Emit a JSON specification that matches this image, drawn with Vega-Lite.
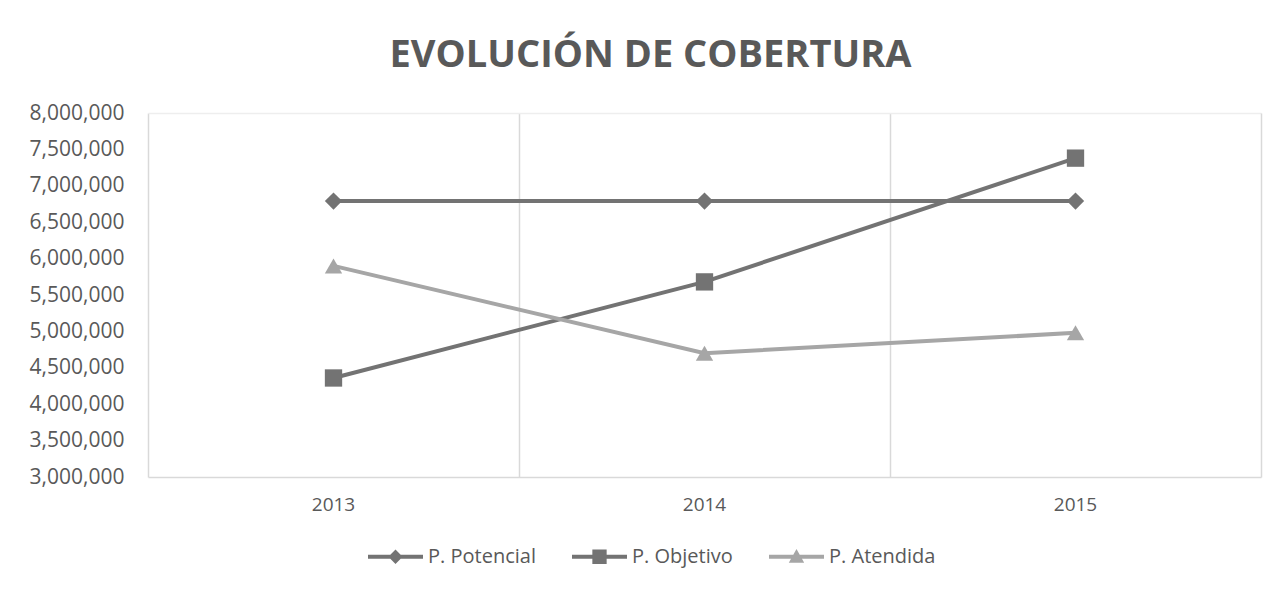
{
  "$schema": "https://vega.github.io/schema/vega-lite/v6.json",
  "width": 1113,
  "height": 364,
  "autosize": {"type": "none"},
  "padding": {"left": 148, "top": 113, "right": 18, "bottom": 112},
  "background": "white",
  "config": {
    "view": {"stroke": null},
    "font": "Open Sans"
  },
  "title": {
    "text": "EVOLUCIÓN DE COBERTURA",
    "font": "Open Sans",
    "fontSize": 38,
    "fontWeight": "bold",
    "color": "#595959",
    "anchor": "middle",
    "baseline": "alphabetic",
    "offset": -3,
    "dx": -54
  },
  "data": {
    "values": [
      {"year": "2013", "serie": "P. Potencial", "value": 6790000},
      {"year": "2014", "serie": "P. Potencial", "value": 6790000},
      {"year": "2015", "serie": "P. Potencial", "value": 6790000},
      {"year": "2013", "serie": "P. Objetivo", "value": 4360000},
      {"year": "2014", "serie": "P. Objetivo", "value": 5680000},
      {"year": "2015", "serie": "P. Objetivo", "value": 7380000},
      {"year": "2013", "serie": "P. Atendida", "value": 5900000},
      {"year": "2014", "serie": "P. Atendida", "value": 4700000},
      {"year": "2015", "serie": "P. Atendida", "value": 4980000}
    ]
  },
  "resolve": {
    "scale": {"color": "independent", "shape": "independent"},
    "axis": {"x": "independent", "y": "independent"}
  },
  "layer": [
    {
      "mark": {"type": "line", "strokeWidth": 4},
      "encoding": {
        "x": {
          "field": "year", "type": "ordinal",
          "scale": {"type": "band", "paddingInner": 0, "paddingOuter": 0},
          "axis": {
            "title": null, "orient": "bottom", "grid": false, "ticks": false,
            "domainColor": "#d9d9d9", "domainWidth": 1.5,
            "labelFont": "Open Sans", "labelFontSize": 19, "labelColor": "#595959",
            "labelPadding": 18, "labelAngle": 0
          }
        },
        "y": {
          "field": "value", "type": "quantitative",
          "scale": {"domain": [3000000, 8000000], "zero": false, "nice": false},
          "axis": {
            "title": null, "orient": "left", "grid": false, "ticks": false, "domain": false,
            "values": [3000000, 3500000, 4000000, 4500000, 5000000, 5500000, 6000000, 6500000, 7000000, 7500000, 8000000],
            "format": ",.0f",
            "labelFont": "Open Sans", "labelFontSize": 21, "labelColor": "#595959",
            "labelPadding": 24
          }
        },
        "color": {
          "field": "serie", "type": "nominal",
          "scale": {"domain": ["P. Potencial", "P. Objetivo", "P. Atendida"], "range": ["#737373", "#737373", "#a6a6a6"]},
          "legend": null
        },
        "detail": {"field": "serie"}
      }
    },
    {
      "mark": {"type": "point", "filled": true, "opacity": 1, "size": 300},
      "encoding": {
        "x": {
          "field": "year", "type": "ordinal",
          "axis": {
            "title": null, "orient": "top", "grid": true, "bandPosition": 0,
            "gridColor": "#d9d9d9", "gridWidth": 1.5,
            "ticks": false, "labels": false, "domainColor": "#eeeeee", "domainWidth": 1.5
          }
        },
        "y": {
          "field": "value", "type": "quantitative",
          "axis": {
            "title": null, "orient": "right", "grid": false, "ticks": false, "labels": false,
            "domainColor": "#d9d9d9", "domainWidth": 1.5
          }
        },
        "color": {
          "field": "serie", "type": "nominal",
          "scale": {"domain": ["P. Potencial", "P. Objetivo", "P. Atendida"], "range": ["#737373", "#737373", "#a6a6a6"]},
          "legend": null
        },
        "shape": {
          "field": "serie", "type": "nominal",
          "scale": {"domain": ["P. Potencial", "P. Objetivo", "P. Atendida"], "range": ["diamond", "square", "triangle-up"]},
          "legend": null
        }
      }
    },
    {
      "transform": [{"filter": "datum.value < 0"}],
      "mark": {"type": "point", "filled": true, "opacity": 1},
      "encoding": {
        "color": {
          "field": "serie", "type": "nominal",
          "scale": {"domain": ["P. Potencial", "P. Objetivo", "P. Atendida"], "range": ["#737373", "#737373", "#a6a6a6"]},
          "legend": {
            "title": null, "orient": "none", "direction": "horizontal",
            "legendX": 220, "legendY": 416,
            "symbolSize": 3025, "symbolStrokeWidth": 0, "symbolOpacity": 1,
            "labelFont": "Open Sans", "labelFontSize": 20, "labelColor": "#595959",
            "labelOffset": 5, "columnPadding": 36
          }
        },
        "shape": {
          "field": "serie", "type": "nominal",
          "scale": {
            "domain": ["P. Potencial", "P. Objetivo", "P. Atendida"],
            "range": [
              "M-1,-0.073H1V0.073H-1Z M0,-0.26L0.26,0L0,0.26L-0.26,0Z",
              "M-1,-0.073H1V0.073H-1Z M-0.26,-0.26H0.26V0.26H-0.26Z",
              "M-1,-0.073H1V0.073H-1Z M0,-0.28L0.28,0.22H-0.28Z"
            ]
          },
          "legend": {
            "title": null, "orient": "none", "direction": "horizontal",
            "legendX": 220, "legendY": 416,
            "symbolSize": 3025, "symbolStrokeWidth": 0, "symbolOpacity": 1,
            "labelFont": "Open Sans", "labelFontSize": 20, "labelColor": "#595959",
            "labelOffset": 5, "columnPadding": 36
          }
        }
      }
    }
  ]
}
